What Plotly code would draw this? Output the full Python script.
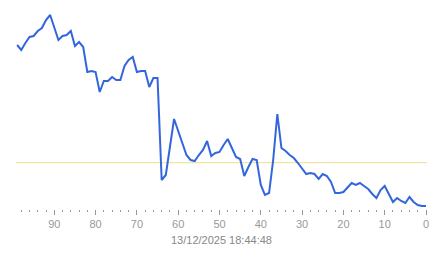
import plotly.graph_objects as go

x_vals = list(range(99, -1, -1))
# values (arbitrary units, higher = up)
y_pix = [45, 50, 43, 37, 36, 31, 28, 20, 15, 27,
         40, 36, 35, 31, 46, 42, 47, 72, 71, 72,
         92, 81, 81, 77, 80, 80, 66, 60, 57, 72,
         71, 71, 87, 78, 78, 180, 175, 147, 119, 131,
         143, 155, 160, 161, 155, 150, 141, 156, 153, 152,
         145, 139, 148, 157, 159, 176, 167, 159, 160, 185,
         195, 193, 160, 114, 148, 151, 155, 158, 163, 168,
         174, 173, 174, 179, 174, 176, 182, 193, 193, 192,
         187, 183, 185, 183, 186, 189, 194, 198, 190, 186,
         194, 202, 198, 201, 203, 197, 202, 205, 206, 206]
values = [220 - p for p in y_pix]
threshold = 57.3
tick_vals = [90, 80, 70, 60, 50, 40, 30, 20, 10, 0]
tick_text = [str(v) for v in tick_vals]
title_text = "13/12/2025 18:44:48"

fig = go.Figure()
fig.add_trace(go.Scatter(x=x_vals, y=values, mode="lines",
                         line=dict(color="#3366dd", width=2), hoverinfo="skip"))
fig.add_shape(type="line", xref="paper", x0=0, x1=1, yref="y",
              y0=threshold, y1=threshold,
              line=dict(color="#ece08a", width=1), layer="below")

fig.update_layout(
    width=443, height=258,
    margin=dict(l=16, r=16, t=5, b=49),
    paper_bgcolor="white", plot_bgcolor="white",
    showlegend=False,
    font=dict(family="Liberation Sans, Arial, sans-serif", color="#999999", size=11),
    xaxis=dict(range=[99.27, -0.24], showgrid=False, zeroline=False, showline=False,
               tickvals=tick_vals, ticktext=tick_text, ticks="outside", ticklen=5,
               tickcolor="#999999", tickwidth=1,
               tickfont=dict(size=11, color="#999999"),
               minor=dict(dtick=2, tick0=0, ticks="outside", ticklen=2,
                          tickcolor="#999999", tickwidth=1, showgrid=False)),
    yaxis=dict(range=[11, 215], visible=False, showgrid=False, zeroline=False),
    annotations=[dict(text=title_text, xref="paper", yref="paper", x=0.5, y=-0.152,
                      xanchor="center", yanchor="middle", showarrow=False,
                      font=dict(size=11, color="#888888"))],
)
fig.write_html("out.html")
